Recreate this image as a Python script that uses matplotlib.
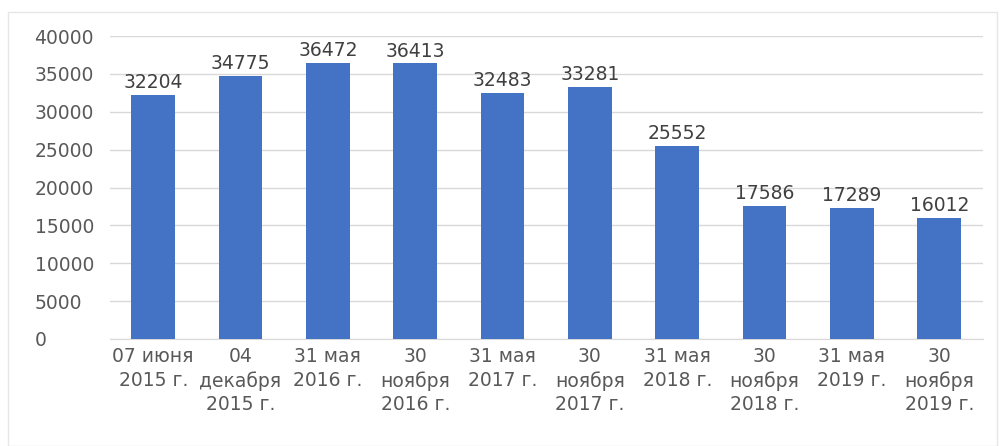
import matplotlib
matplotlib.use("Agg")
import matplotlib.pyplot as plt
from matplotlib.patches import Rectangle

dates = [
    "07 июня\n2015 г.",
    "04\nдекабря\n2015 г.",
    "31 мая\n2016 г.",
    "30\nноября\n2016 г.",
    "31 мая\n2017 г.",
    "30\nноября\n2017 г.",
    "31 мая\n2018 г.",
    "30\nноября\n2018 г.",
    "31 мая\n2019 г.",
    "30\nноября\n2019 г.",
]
counts = [32204, 34775, 36472, 36413, 32483, 33281, 25552, 17586, 17289, 16012]

text_color = "#595959"
bar_color = "#4472C4"

plt.rcParams["font.family"] = ["DejaVu Sans"]

fig = plt.figure(figsize=(10.05, 4.46), dpi=100)
ax = fig.add_axes([0.109, 0.240, 0.869, 0.679])

x = range(len(counts))
bars = ax.bar(x, counts, width=0.5, color=bar_color, zorder=3)

for b, v in zip(bars, counts):
    ax.annotate(str(v), (b.get_x() + b.get_width() / 2, v),
                xytext=(0, 2), textcoords="offset points",
                ha="center", va="bottom", fontsize=13.5, color="#404040")

ax.set_ylim(0, 40000)
ax.set_xlim(-0.5, len(counts) - 0.5)
ax.set_yticks(range(0, 40001, 5000))
ax.set_xticks(list(x))
ax.set_xticklabels(dates, fontsize=13.5, color=text_color, linespacing=1.3)
ax.tick_params(axis="y", labelsize=13.5, labelcolor=text_color, length=0, pad=54)
for lbl in ax.get_yticklabels():
    lbl.set_horizontalalignment("left")
ax.tick_params(axis="x", length=0, pad=6)
ax.grid(axis="y", color="#d9d9d9", linewidth=1, zorder=0)
for s in ["top", "right", "left"]:
    ax.spines[s].set_visible(False)
ax.spines["bottom"].set_color("#d9d9d9")

fig.patches.append(Rectangle((0.008, 0.0), 0.984, 0.973, transform=fig.transFigure,
                             fill=False, edgecolor="#e6e6e6", linewidth=1))

plt.savefig("out.png", dpi=100)
plt.close()
